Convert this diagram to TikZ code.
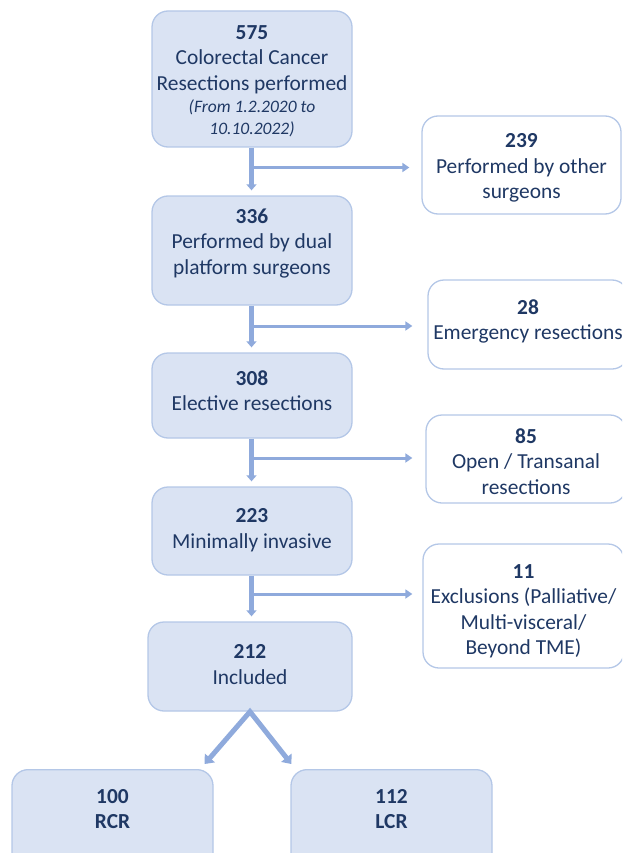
\documentclass[tikz,border=0pt]{standalone}
\usepackage{fontspec}
\setmainfont{Carlito}
\usepackage{xcolor}
\usetikzlibrary{arrows.meta, calc}
\definecolor{boxblue}{RGB}{218,227,243}
\definecolor{edgeblue}{RGB}{180,199,231}
\definecolor{arrowblue}{RGB}{143,170,220}
\definecolor{textblue}{RGB}{31,56,100}

\newcommand{\datefont}{\fontsize{17.5}{22}\selectfont\itshape}
% box height, top gap, lines
\newcommand{\flowtext}[3]{\parbox[c][#1][t]{198pt}{\centering\vspace*{#2}#3}}

\tikzset{
mainbox/.style={draw=edgeblue, line width=1.3pt, fill=boxblue, rounded corners=16pt,
  text=textblue, minimum width=200pt, inner sep=0pt,
  font=\fontsize{21.4}{25.5}\selectfont},
sidebox/.style={mainbox, fill=white},
lowbox/.style={mainbox, anchor=north, minimum width=201pt},
flow/.style={draw=arrowblue, line width=4.4pt, -{Triangle[width=10pt,length=6pt]}},
branch/.style={draw=arrowblue, line width=3pt, -{Triangle[width=9pt,length=7pt]}},
split/.style={draw=arrowblue, line width=5pt, {Triangle[width=13pt,length=8pt]}-{Triangle[width=13pt,length=8pt]}}
}

\begin{document}
\begin{tikzpicture}[x=1pt,y=-1pt]
\useasboundingbox (0,0) rectangle (622,853);
\clip (0,0) rectangle (622,853);

% main column
\node[mainbox] (n575) at (252,79)
  {\flowtext{136pt}{14.5pt}{\textbf{575}\\Colorectal Cancer\\Resections performed\par
   {\datefont (From 1.2.2020 to\\10.10.2022)\par}}};
\node[mainbox] (n336) at (252,250.5)
  {\flowtext{109pt}{12.5pt}{\textbf{336}\\Performed by dual\\platform surgeons}};
\node[mainbox] (n308) at (252,395.5)
  {\flowtext{85pt}{17.5pt}{\textbf{308}\\Elective resections}};
\node[mainbox] (n223) at (252,531)
  {\flowtext{88pt}{21.5pt}{\textbf{223}\\Minimally invasive}};
\node[mainbox, minimum width=204pt] (n212) at (250,666.5)
  {\flowtext{89pt}{22.5pt}{\textbf{212}\\Included}};

% excluded
\node[sidebox, minimum width=199pt] (o239) at (521.5,165)
  {\flowtext{98pt}{17.5pt}{\textbf{239}\\Performed by other\\surgeons}};
\node[sidebox] (o28) at (528,324.5)
  {\flowtext{89pt}{19.5pt}{\textbf{28}\\Emergency resections}};
\node[sidebox] (o85) at (526,459)
  {\flowtext{88pt}{13.5pt}{\textbf{85}\\Open / Transanal\\resections}};
\node[sidebox, minimum width=201pt] (o11) at (523.5,606)
  {\flowtext{124pt}{20.5pt}{\textbf{11}\\Exclusions (Palliative/\\Multi-visceral/\\Beyond TME)}};

% groups
\node[lowbox] (n100) at (112.5,769)
  {\flowtext{110pt}{19.5pt}{\textbf{100}\\\textbf{RCR}}};
\node[lowbox] (n112) at (391.5,769)
  {\flowtext{110pt}{19.5pt}{\textbf{112}\\\textbf{LCR}}};

\coordinate (b1) at (251.5,167.5);
\coordinate (b2) at (251.5,326);
\coordinate (b3) at (251.5,458);
\coordinate (b4) at (251.5,594);

\foreach \a/\b in {n575/n336, n336/n308, n308/n223, n223/n212}{
\draw[flow, shorten >=5pt] ([xshift=-0.5pt]\a.south) -- ([xshift=-0.5pt]\a.south |- \b.north);
}
\foreach \b/\o/\s in {b1/o239/12, b2/o28/15, b3/o85/13, b4/o11/10}{
\draw[branch, shorten >=\s pt] (\b) -- (\b -| \o.west);
}
\draw[split] ($(n100.north east)+(-9,-5)$) -- (n212.south) -- ($(n112.north west)+(1,-5)$);

\end{tikzpicture}
\end{document}
